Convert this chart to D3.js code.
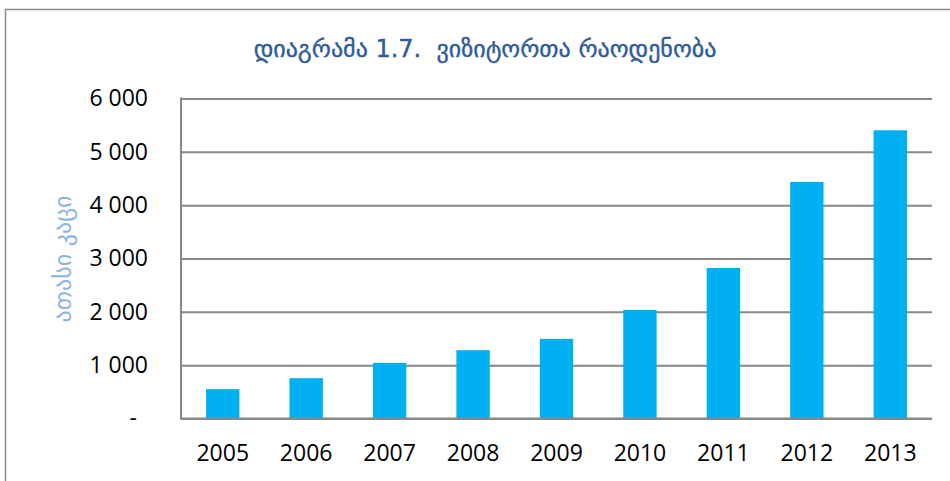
<!DOCTYPE html>
<html><head><meta charset="utf-8">
<script src="https://cdn.jsdelivr.net/npm/d3@7"></script>
<style>
html,body{margin:0;padding:0;background:#fff;}
</style></head>
<body>
<svg id="c" width="950" height="481"></svg>
<script>
const years = ["2005","2006","2007","2008","2009","2010","2011","2012","2013"];
const visitors = [550, 756, 1043, 1281, 1493, 2034, 2822, 4434, 5404];
const yTicks = [0, 1000, 2000, 3000, 4000, 5000, 6000];
const titleText = "დიაგრამა 1.7.  ვიზიტორთა რაოდენობა";
const yAxisTitle = "ათასი კაცი";

const svg = d3.select("#c");
const m = {left:181, right:932, top:98.5, bottom:418.5};
const numFont = "'Open Sans', Carlito, sans-serif";

// outer frame
svg.append("rect").attr("x",5.5).attr("y",9.5).attr("width",960).attr("height",500)
  .attr("fill","none").attr("stroke","#8c8c8c").attr("stroke-width",1.5);

const x = d3.scaleBand().domain(years).range([m.left, m.right]).paddingInner(0.6).paddingOuter(0.3);
const y = d3.scaleLinear().domain([0,6000]).range([m.bottom, m.top]);

const fmt = v => v === 0 ? "-" : d3.format(",")(v).replace(/,/g," ");

// gridlines
const yAxis = d3.axisLeft(y).tickValues(yTicks).tickSize(-(m.right-m.left)).tickFormat(fmt).tickPadding(0);
const gy = svg.append("g").attr("transform",`translate(${m.left},0)`).call(yAxis);
gy.select(".domain").remove();
gy.selectAll(".tick line").attr("stroke","#878787").attr("stroke-width",2);
gy.selectAll(".tick text").attr("x",-33).attr("fill","#000")
  .style("font-family",numFont).style("font-size","23px");
gy.selectAll(".tick text").filter(d=>d===0).attr("x",-44);

// bars
svg.append("g").selectAll("rect").data(years).join("rect")
  .attr("x", d=>x(d)).attr("width", x.bandwidth())
  .attr("y", (d,i)=>y(visitors[i])).attr("height",(d,i)=>y(0)-y(visitors[i]))
  .attr("fill","#00b0f0");

// left axis line
svg.append("line").attr("x1",m.left).attr("x2",m.left).attr("y1",m.top-1).attr("y2",m.bottom+1)
  .attr("stroke","#878787").attr("stroke-width",2);
// baseline
svg.append("line").attr("x1",m.left).attr("x2",m.right).attr("y1",y(0)).attr("y2",y(0))
  .attr("stroke","#878787").attr("stroke-width",2);

// x axis labels
const xAxis = d3.axisBottom(x).tickSize(0).tickPadding(0);
const gx = svg.append("g").attr("transform",`translate(0,${m.bottom})`).call(xAxis);
gx.select(".domain").remove();
gx.selectAll(".tick text").attr("y",42).attr("dy",0).attr("fill","#000")
  .style("font-family",numFont).style("font-size","23px");

// title
svg.append("text").attr("x",485).attr("y",57).attr("text-anchor","middle")
  .attr("fill","#2e5b99").style("font-family","'DejaVu Sans'").style("font-size","24px")
  .style("white-space","pre").attr("xml:space","preserve")
  .attr("stroke","#2e5b99").attr("stroke-width",0.4)
  .text(titleText);

// y axis title
svg.append("text").attr("transform","translate(71,259) rotate(-90)").attr("text-anchor","middle")
  .attr("fill","#8db3e2").style("font-family","'DejaVu Sans'").style("font-size","24px")
  .text(yAxisTitle);
</script>
</body></html>
